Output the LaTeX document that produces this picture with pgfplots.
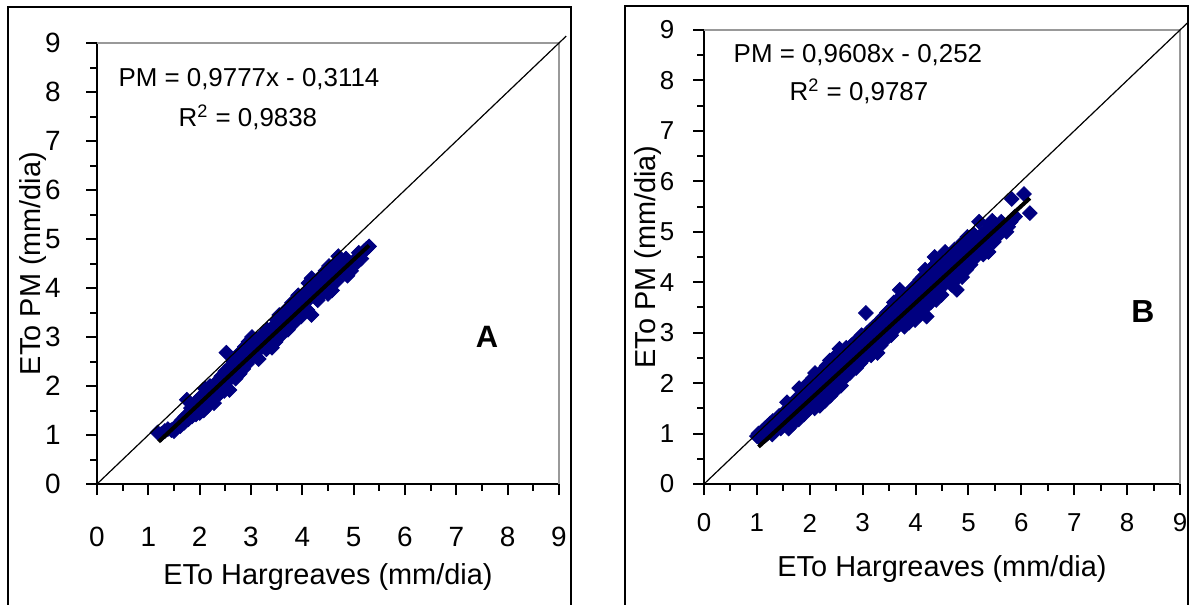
\documentclass[border=0pt]{standalone}
\usepackage{fontspec}
\setmainfont{Liberation Sans}
\usepackage{pgfplots}
\usepackage{pgfplotstable}
\pgfplotsset{compat=1.18}
\definecolor{navy}{RGB}{0,0,128}

% ETo Hargreaves (x) vs ETo PM (y), panel A
\pgfplotstableread[row sep=\\]{x y\\
1.18 1.05\\ 1.25 1.02\\ 1.32 1.08\\ 1.38 1.12\\ 1.45 1.10\\ 1.50 1.08\\ 1.55 1.15\\ 1.58 1.22\\
1.62 1.18\\ 1.65 1.30\\ 1.70 1.25\\ 1.72 1.38\\ 1.75 1.72\\ 1.78 1.32\\ 1.80 1.45\\ 1.83 1.55\\
1.85 1.38\\ 1.88 1.50\\ 1.90 1.62\\ 1.93 1.42\\ 1.95 1.70\\ 1.98 1.55\\ 2.00 1.45\\ 2.02 1.78\\
2.05 1.62\\ 2.08 1.50\\ 2.10 1.95\\ 2.12 1.70\\ 2.15 1.58\\ 2.18 1.85\\ 2.20 2.00\\ 2.22 1.72\\
2.25 1.90\\ 2.28 1.65\\ 2.30 2.05\\ 2.33 1.80\\ 2.35 1.95\\ 2.38 2.10\\ 2.40 1.85\\ 2.42 2.20\\
2.45 2.00\\ 2.48 1.90\\ 2.50 2.30\\ 2.52 2.68\\ 2.55 2.10\\ 2.58 1.92\\ 2.60 2.40\\ 2.62 2.20\\
2.65 2.50\\ 2.68 2.30\\ 2.70 2.15\\ 2.72 2.60\\ 2.75 2.40\\ 2.78 2.25\\ 2.80 2.70\\ 2.82 2.50\\
2.85 2.35\\ 2.88 2.80\\ 2.90 2.60\\ 2.92 2.45\\ 2.95 2.90\\ 2.98 2.70\\ 3.00 2.55\\ 3.02 3.00\\
3.05 2.80\\ 3.08 2.62\\ 3.10 2.95\\ 3.12 2.70\\ 3.15 2.55\\ 3.18 3.00\\ 3.20 2.82\\ 3.25 3.05\\
3.28 2.90\\ 3.30 2.75\\ 3.32 3.15\\ 3.35 2.98\\ 3.41 2.78\\ 3.42 3.20\\ 3.45 3.05\\ 3.48 2.90\\
3.50 3.35\\ 3.52 3.15\\ 3.55 3.45\\ 3.58 3.25\\ 3.60 3.05\\ 3.62 3.40\\ 3.65 3.20\\ 3.68 3.55\\
3.70 3.35\\ 3.72 3.15\\ 3.75 3.60\\ 3.78 3.40\\ 3.80 3.70\\ 3.82 3.50\\ 3.85 3.30\\ 3.88 3.75\\
3.90 3.55\\ 3.92 3.85\\ 3.95 3.60\\ 3.98 3.42\\ 4.00 3.80\\ 4.02 3.65\\ 4.05 3.90\\ 4.08 3.72\\
4.10 3.55\\ 4.12 4.10\\ 4.18 3.45\\ 4.18 4.20\\ 4.20 3.85\\ 4.22 4.05\\ 4.25 3.95\\ 4.28 4.15\\
4.30 3.75\\ 4.35 4.00\\ 4.38 4.25\\ 4.40 3.90\\ 4.45 4.35\\ 4.48 4.10\\ 4.50 3.88\\ 4.52 4.45\\
4.55 4.20\\ 4.58 3.95\\ 4.60 4.30\\ 4.65 4.50\\ 4.68 4.15\\ 4.70 4.65\\ 4.72 4.35\\ 4.75 4.55\\
4.80 4.40\\ 4.85 4.60\\ 4.88 4.25\\ 4.92 4.45\\ 4.95 4.35\\ 5.00 4.55\\ 5.05 4.50\\ 5.10 4.72\\
5.15 4.60\\ 5.20 4.75\\ 5.25 4.80\\ 5.30 4.85\\
}\dataA

% panel B
\pgfplotstableread[row sep=\\]{x y\\
1.00 0.95\\ 1.03 1.00\\ 1.06 0.90\\ 1.10 1.05\\ 1.12 0.95\\ 1.15 1.10\\ 1.18 0.98\\ 1.20 1.15\\
1.22 1.02\\ 1.25 1.20\\ 1.27 1.08\\ 1.29 0.98\\ 1.30 1.25\\ 1.33 1.12\\ 1.35 1.05\\ 1.38 1.30\\
1.39 1.15\\ 1.40 1.20\\ 1.42 1.35\\ 1.45 1.10\\ 1.47 1.28\\ 1.49 1.40\\ 1.50 1.30\\ 1.52 1.18\\
1.55 1.45\\ 1.57 1.62\\ 1.58 1.25\\ 1.60 1.10\\ 1.62 1.40\\ 1.64 1.55\\ 1.66 1.30\\ 1.68 1.48\\
1.69 1.20\\ 1.70 1.60\\ 1.72 1.45\\ 1.74 1.35\\ 1.76 1.70\\ 1.78 1.52\\ 1.79 1.28\\ 1.80 1.90\\
1.82 1.62\\ 1.84 1.45\\ 1.86 1.78\\ 1.88 1.55\\ 1.89 1.38\\ 1.90 1.70\\ 1.92 1.95\\ 1.94 1.60\\
1.96 1.82\\ 1.98 1.48\\ 1.99 2.00\\ 2.00 1.75\\ 2.02 1.90\\ 2.04 1.58\\ 2.06 2.10\\ 2.08 1.82\\
2.09 1.50\\ 2.10 2.20\\ 2.12 1.95\\ 2.14 1.70\\ 2.16 2.05\\ 2.18 1.85\\ 2.19 1.55\\ 2.20 2.10\\
2.22 1.92\\ 2.24 2.25\\ 2.26 1.78\\ 2.28 2.00\\ 2.29 1.65\\ 2.30 2.15\\ 2.32 2.35\\ 2.34 1.90\\
2.36 2.05\\ 2.38 2.45\\ 2.39 1.75\\ 2.40 2.25\\ 2.42 2.00\\ 2.44 2.40\\ 2.46 2.15\\ 2.48 1.85\\
2.49 2.30\\ 2.50 2.55\\ 2.52 2.20\\ 2.54 2.05\\ 2.56 2.68\\ 2.58 2.35\\ 2.59 1.95\\ 2.60 2.45\\
2.62 2.25\\ 2.64 2.60\\ 2.66 2.10\\ 2.68 2.40\\ 2.69 2.70\\ 2.70 2.50\\ 2.72 2.30\\ 2.74 2.65\\
2.76 2.20\\ 2.78 2.45\\ 2.79 2.75\\ 2.80 2.55\\ 2.82 2.35\\ 2.84 2.80\\ 2.86 2.60\\ 2.88 2.30\\
2.89 2.70\\ 2.90 2.85\\ 2.92 2.50\\ 2.94 2.65\\ 2.96 2.40\\ 2.98 2.95\\ 2.99 2.75\\ 3.00 2.60\\
3.02 2.85\\ 3.04 2.50\\ 3.06 3.39\\ 3.08 2.75\\ 3.09 3.00\\ 3.10 2.65\\ 3.12 2.90\\ 3.14 3.05\\
3.16 2.55\\ 3.18 2.80\\ 3.19 3.10\\ 3.20 2.95\\ 3.22 2.70\\ 3.24 3.15\\ 3.26 2.85\\ 3.28 2.60\\
3.29 3.00\\ 3.30 3.20\\ 3.32 2.90\\ 3.34 2.75\\ 3.36 3.10\\ 3.38 3.30\\ 3.39 2.95\\ 3.40 3.05\\
3.42 2.85\\ 3.44 3.25\\ 3.46 3.40\\ 3.48 3.00\\ 3.49 3.15\\ 3.50 3.35\\ 3.52 3.10\\ 3.54 2.95\\
3.56 3.50\\ 3.58 3.20\\ 3.59 3.60\\ 3.60 3.30\\ 3.62 3.45\\ 3.64 3.10\\ 3.66 3.65\\ 3.68 3.35\\
3.69 3.20\\ 3.70 3.85\\ 3.72 3.50\\ 3.74 3.25\\ 3.76 3.70\\ 3.78 3.40\\ 3.79 3.12\\ 3.80 3.60\\
3.82 3.75\\ 3.84 3.30\\ 3.86 3.50\\ 3.88 3.20\\ 3.89 3.65\\ 3.90 3.80\\ 3.92 3.55\\ 3.94 3.40\\
3.96 3.90\\ 3.98 3.65\\ 3.99 3.25\\ 4.00 3.70\\ 4.02 3.95\\ 4.04 3.50\\ 4.06 3.80\\ 4.08 3.35\\
4.09 4.05\\ 4.10 3.85\\ 4.12 3.60\\ 4.14 4.10\\ 4.16 3.75\\ 4.18 4.25\\ 4.19 3.50\\ 4.21 3.32\\
4.22 3.95\\ 4.24 3.70\\ 4.26 4.15\\ 4.28 3.85\\ 4.29 3.60\\ 4.30 4.05\\ 4.32 4.30\\ 4.34 3.80\\
4.36 4.50\\ 4.38 3.95\\ 4.39 3.65\\ 4.40 4.20\\ 4.42 4.40\\ 4.44 3.90\\ 4.46 4.05\\ 4.48 4.30\\
4.49 3.75\\ 4.50 4.15\\ 4.52 4.45\\ 4.54 3.95\\ 4.56 4.60\\ 4.58 4.25\\ 4.59 4.05\\ 4.60 4.35\\
4.62 4.10\\ 4.64 4.50\\ 4.66 4.20\\ 4.68 3.95\\ 4.69 4.40\\ 4.70 4.55\\ 4.72 4.25\\ 4.74 4.65\\
4.76 4.05\\ 4.78 3.85\\ 4.79 4.40\\ 4.80 4.50\\ 4.82 4.20\\ 4.84 4.70\\ 4.86 4.35\\ 4.88 4.10\\
4.89 4.60\\ 4.90 4.80\\ 4.92 4.40\\ 4.94 4.55\\ 4.96 4.25\\ 4.98 4.90\\ 4.99 4.65\\ 5.00 4.50\\
5.02 4.75\\ 5.04 4.35\\ 5.06 4.85\\ 5.08 4.60\\ 5.09 4.45\\ 5.10 4.95\\ 5.12 4.70\\ 5.14 4.50\\
5.16 4.80\\ 5.18 4.60\\ 5.20 5.20\\ 5.22 4.85\\ 5.24 4.65\\ 5.26 4.95\\ 5.28 4.55\\ 5.30 5.00\\
5.32 4.75\\ 5.35 4.90\\ 5.38 4.60\\ 5.40 5.15\\ 5.42 4.90\\ 5.45 5.22\\ 5.48 4.80\\ 5.50 5.05\\
5.52 4.88\\ 5.55 5.10\\ 5.58 4.95\\ 5.62 5.20\\ 5.66 5.05\\ 5.72 5.00\\ 5.75 5.10\\ 5.80 5.20\\
5.82 5.65\\ 5.88 5.30\\ 6.05 5.75\\ 6.16 5.37\\
}\dataB

\pgfplotsset{
  etoplot/.style={
    scale only axis, anchor=south west,
    xmin=0, xmax=9, ymin=0, ymax=9,
    xtick={0,...,9}, ytick={0,...,9},
    minor tick num=1,
    axis x line*=bottom, axis y line*=left,
    axis line style={line width=1bp, black},
    tick align=outside,
    major tick length=5.5bp, minor tick length=3.3bp,
    tick style={black, line width=1bp},
    /pgf/number format/assume math mode=true,
    clip=false, clip marker paths=true,
    xlabel={ETo Hargreaves (mm/dia)},
    ylabel={ETo PM (mm/dia)},
    label style={font=\fontsize{14.5}{17}\selectfont},
  },
  pts/.style={only marks, mark=square*, mark size=2.6bp,
    mark options={rotate=45, fill=navy, draw=navy}, color=navy},
}

\begin{document}
\begin{tikzpicture}[x=1bp, y=1bp]
\useasboundingbox (0,0) rectangle (595,302);
\clip (0,0) rectangle (595,302);
\draw[line width=1.1bp] (4,-5) rectangle (285.5,298.5);
\draw[line width=1.1bp] (312.5,-5) rectangle (594,299);

\begin{axis}[etoplot,
    at={(48.5bp,60bp)}, width=231bp, height=220.5bp,
    tick label style={font=\fontsize{14}{14}\selectfont},
    xticklabel style={anchor=center, yshift=-21bp},
    yticklabel style={anchor=center, xshift=-16.5bp},
    xlabel style={at={(axis description cs:0.5,-0.211)}, anchor=center},
    ylabel style={at={(axis description cs:-0.1385,0.5)}, anchor=center},
]
\draw[black!40, line width=1bp] (rel axis cs:0,1) -- (rel axis cs:1,1) -- (rel axis cs:1,0);
\addplot[pts] table {\dataA};
\addplot[black, line width=0.6bp] coordinates {(0,0) (9.14,9.14)};
\addplot[black, line width=2bp] coordinates {(1.2,0.862) (5.3,4.870)};
\node[font=\fontsize{13}{15}\selectfont] at (axis cs:2.96,8.27) {PM = 0,9777x - 0,3114};
\node[font=\fontsize{13}{15}\selectfont] at (axis cs:2.94,7.49) {R\textsuperscript{2} = 0,9838};
\node[font=\fontsize{15.5}{17}\selectfont\bfseries] at (axis cs:7.6,3.0) {A};
\end{axis}

\begin{axis}[etoplot,
    at={(352bp,60bp)}, width=238bp, height=227bp,
    tick label style={font=\fontsize{13}{13}\selectfont},
    xticklabel style={anchor=center, yshift=-14bp},
    yticklabel style={anchor=center, xshift=-13bp},
    xlabel style={at={(axis description cs:0.5,-0.187)}, anchor=center},
    ylabel style={at={(axis description cs:-0.1176,0.5)}, anchor=center},
]
\draw[black!40, line width=1bp] (rel axis cs:0,1) -- (rel axis cs:1,1) -- (rel axis cs:1,0);
\addplot[pts] table {\dataB};
\addplot[black, line width=0.6bp] coordinates {(0,0) (9.14,9.14)};
\addplot[black, line width=2bp] coordinates {(1.03,0.738) (6.16,5.666)};
\node[font=\fontsize{13}{15}\selectfont] at (axis cs:2.91,8.51) {PM = 0,9608x - 0,252};
\node[font=\fontsize{13}{15}\selectfont] at (axis cs:2.93,7.78) {R\textsuperscript{2} = 0,9787};
\node[font=\fontsize{16}{18}\selectfont\bfseries] at (axis cs:8.3,3.41) {B};
\end{axis}
\end{tikzpicture}
\end{document}
